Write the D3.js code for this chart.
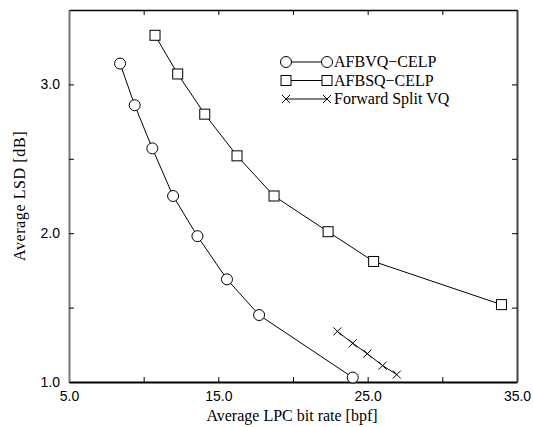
<!DOCTYPE html>
<html lang="en">
<head>
<meta charset="UTF-8">
<script src="https://d3js.org/d3.v7.min.js"></script>
<style>
    body { margin: 0; background: #fff; }
    .tick text { font-family: "Liberation Sans", Arial, sans-serif; font-size: 14px; }
    .title { font-family: "Liberation Serif", "Times New Roman", serif; font-size: 16px; }
</style>
</head>
<body>
<div id="chart"></div>
<script>
    // data
    var afbvqX = [8.42, 9.40, 10.58, 11.97, 13.6, 15.58, 17.73, 24.0];
    var afbvqY = [3.14, 2.86, 2.57, 2.25, 1.98, 1.69, 1.45, 1.03];
    var afbsqX = [10.76, 12.28, 14.09, 16.25, 18.73, 22.35, 25.4, 33.96];
    var afbsqY = [3.33, 3.07, 2.80, 2.52, 2.25, 2.01, 1.81, 1.52];
    var splitX = [22.97, 24.0, 24.98, 26.0, 26.95];
    var splitY = [1.34, 1.26, 1.19, 1.11, 1.05];
    var seriesNames = ["AFBVQ\u2212CELP", "AFBSQ\u2212CELP", "Forward Split VQ"];
    var xTicks = [5, 10, 15, 20, 25, 30, 35];
    var xLabels = [5, 15, 25, 35];
    var yTicks = [1.0, 1.5, 2.0, 2.5, 3.0];
    var yLabels = [1.0, 2.0, 3.0];

    var canvasWidth = 533, canvasHeight = 427;
    var plotLeft = 69, plotRight = 517, plotTop = 10, plotBottom = 382;

    var svg = d3.select("#chart").append("svg")
        .attr("width", canvasWidth)
        .attr("height", canvasHeight);

    var xScale = d3.scaleLinear().domain([5, 35]).range([plotLeft, plotRight]);
    var yScale = d3.scaleLinear().domain([1, 3.5]).range([plotBottom, plotTop]);
    var fmt = d3.format(".1f");

    // bottom axis
    svg.append("g")
        .attr("transform", "translate(0," + plotBottom + ")")
        .call(d3.axisBottom(xScale).tickValues(xTicks).tickSizeInner(-5).tickSizeOuter(0)
            .tickPadding(9)
            .tickFormat(function(d) { return xLabels.indexOf(d) >= 0 ? fmt(d) : ""; }))
        .call(function(g) {
            g.select(".domain").attr("stroke-width", 2);
            g.selectAll(".tick text").attr("fill", "#000");
        });
    // top ticks
    svg.append("g")
        .attr("transform", "translate(0," + plotTop + ")")
        .call(d3.axisTop(xScale).tickValues(xTicks).tickSizeInner(-5).tickSizeOuter(0).tickFormat(""))
        .call(function(g) { g.select(".domain").attr("stroke-width", 1.5); });
    // left axis
    svg.append("g")
        .attr("transform", "translate(" + plotLeft + ",0)")
        .call(d3.axisLeft(yScale).tickValues(yTicks).tickSizeInner(-5).tickSizeOuter(0)
            .tickPadding(9)
            .tickFormat(function(d) { return yLabels.indexOf(d) >= 0 ? fmt(d) : ""; }))
        .call(function(g) {
            g.select(".domain").attr("stroke", "#777").attr("stroke-width", 2);
            g.selectAll(".tick text").attr("fill", "#000");
        });
    // right ticks
    svg.append("g")
        .attr("transform", "translate(" + plotRight + ",0)")
        .call(d3.axisRight(yScale).tickValues(yTicks).tickSizeInner(-5).tickSizeOuter(0).tickFormat(""))
        .call(function(g) { g.select(".domain").attr("stroke", "#444").attr("stroke-width", 2); });

    // axis titles
    svg.append("text").attr("class", "title")
        .attr("x", 292).attr("y", 421)
        .attr("text-anchor", "middle")
        .text("Average LPC bit rate [bpf]");
    svg.append("text").attr("class", "title")
        .attr("transform", "translate(25,196) rotate(-90)")
        .attr("text-anchor", "middle")
        .attr("letter-spacing", "0.6px")
        .text("Average LSD [dB]");

    var line = d3.line().x(function(d) { return xScale(d[0]); }).y(function(d) { return yScale(d[1]); });

    function drawSeries(xs, ys, marker) {
        var pts = d3.zip(xs, ys);
        svg.append("path").datum(pts)
            .attr("d", line)
            .attr("fill", "none")
            .attr("stroke", "#000")
            .attr("stroke-width", 1);
        pts.forEach(function(p) {
            marker(svg, xScale(p[0]), yScale(p[1]));
        });
    }

    function circleMark(g, x, y) {
        g.append("circle").attr("cx", x).attr("cy", y).attr("r", 5.5)
            .attr("fill", "#fff").attr("stroke", "#000").attr("stroke-width", 1);
    }
    function squareMark(g, x, y) {
        g.append("rect").attr("x", x - 5).attr("y", y - 5).attr("width", 10).attr("height", 10)
            .attr("fill", "#fff").attr("stroke", "#000").attr("stroke-width", 1);
    }
    function crossMark(g, x, y) {
        g.append("path")
            .attr("d", "M" + (x - 4) + "," + (y - 4) + "L" + (x + 4) + "," + (y + 4) +
                "M" + (x - 4) + "," + (y + 4) + "L" + (x + 4) + "," + (y - 4))
            .attr("stroke", "#000").attr("stroke-width", 1);
    }

    drawSeries(afbvqX, afbvqY, circleMark);
    drawSeries(afbsqX, afbsqY, squareMark);
    drawSeries(splitX, splitY, crossMark);

    // legend
    var markers = [circleMark, squareMark, crossMark];
    var legend = svg.append("g");
    seriesNames.forEach(function(name, i) {
        var y = 62 + i * 18.5;
        legend.append("line").attr("x1", 286).attr("x2", 327).attr("y1", y).attr("y2", y)
            .attr("stroke", "#000").attr("stroke-width", 1);
        markers[i](legend, 286, y);
        markers[i](legend, 327, y);
        legend.append("text").attr("class", "title")
            .attr("x", 334).attr("y", y + 5)
            .text(name);
    });
</script>
</body>
</html>
